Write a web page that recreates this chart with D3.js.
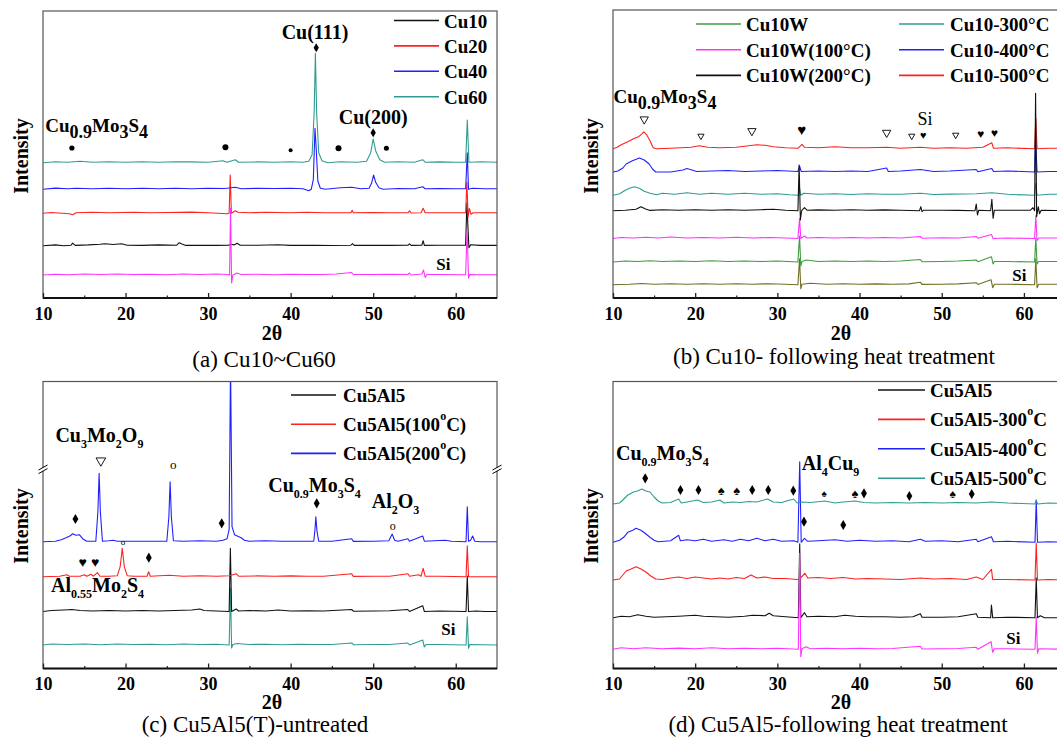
<!DOCTYPE html>
<html><head><meta charset="utf-8">
<script src="https://cdn.jsdelivr.net/npm/d3@7"></script>
<style>
body{margin:0;background:#fff}
text{font-family:"Liberation Serif","Times New Roman",serif}
</style>
</head><body>
<svg id="fig" width="1057" height="740"></svg>
<script>
// ---- shared x axis values (2θ, degrees)
const ticks2t = [10,20,30,40,50,60];
const minor2t = [15,25,35,45,55];

// ---- (a) Cu10~Cu60   values: [2θ, intensity above own baseline]
const aNames   = ["Cu10","Cu20","Cu40","Cu60",""];
const aColors  = ["#111111","#ff2020","#2020ff","#2f9c94","#ff33ff"];
const aOffsets = [52.3, 84.7, 108.7, 135.3, 23];
const aCu10 = [[10,0],[11.5,0.8],[12.5,0],[13.4,0.5],[13.6,2.5],[13.9,0.3],[15.5,0.8],[16.9,1.5],[17.5,2],[18.5,1.2],[19.5,2],[20.2,0.5],[22,0.3],[24,0.8],[26.2,0.5],[26.5,3],[26.9,1.5],[27.3,0.3],[29.5,0.5],[31,0.3],[32.5,0.5],[32.7,1.5],[33.2,0.8],[33.5,2.5],[33.9,0.5],[36,0.5],[38.5,1],[40,0.3],[43,0.5],[45,0.2],[47.3,0.5],[47.5,2],[47.7,0.3],[50,0.5],[52,0.3],[54.2,0.5],[54.4,1.8],[54.6,0.3],[55.9,0.5],[56.05,5],[56.2,0.3],[58,0.5],[61.2,0.5],[61.35,42.7],[61.5,15],[61.6,-2],[61.8,1],[63,0.3],[65,0.3]];
const aCu20 = [[10,0],[11,0.8],[13.2,-0.5],[13.6,-1.5],[14,0.5],[16,1],[18,0.5],[21,1],[23,0.5],[25,0.8],[28,1.2],[30,0.5],[32.3,-0.5],[32.55,0],[32.68,38.3],[32.82,0],[33.3,2.5],[33.6,1],[35,0.5],[37,1],[40,0.5],[42,1],[44,0.5],[47.3,0.5],[47.45,3],[47.6,0.5],[50,0.8],[52,0.5],[54.2,0.5],[54.4,2.5],[54.6,0.3],[55.8,0.5],[56.05,5],[56.3,0.5],[58,0.5],[61.2,0.5],[61.35,31.3],[61.5,-4],[61.65,5],[61.85,-1],[62.1,0.5],[65,0.5]];
const aCu40 = [[10,0],[11.5,1.2],[13,0.5],[14,1],[16,0.5],[18,1],[20,0.5],[22,1],[24,0.5],[26,1],[28,0.5],[30,1],[32,0.8],[33.3,2],[34,0.5],[36,1],[38,0.8],[40,1],[41.5,0.5],[42.2,-1.5],[42.5,0],[42.75,10],[42.95,61],[43.1,40],[43.3,8],[43.6,1],[44.2,0],[46,1.5],[47.4,2],[48.5,0.5],[49.5,1],[49.8,6],[50.05,14.3],[50.3,7],[50.7,1.5],[51.2,0],[53,0.8],[55,0.5],[56,2.5],[56.3,0.5],[58,0.8],[60,0.5],[61.2,0.5],[61.4,36.6],[61.55,0],[62,1],[63.5,0.5],[65,0.5]];
const aCu60 = [[10,0],[11.5,1],[13,0.5],[14.5,1.5],[16,0.5],[18,1],[20,0.5],[22,1],[24,0.5],[26,1],[28,0.8],[30,0.5],[31.8,2],[32.3,0.5],[33.3,3],[33.7,0.5],[36,0.8],[38,0.5],[40,1],[41.5,0.5],[42.2,1.5],[42.6,8],[42.85,50],[43.0,109.4],[43.15,50],[43.4,10],[43.8,2],[44.5,0],[46,1],[48,0.5],[49.2,1.5],[49.7,10],[50.0,23.7],[50.3,12],[50.8,3],[51.4,0.5],[53,1],[55,0.5],[56,3],[56.3,0.5],[58,0.8],[60,0.5],[61.2,0.5],[61.4,42.7],[61.6,0.5],[63,1],[65,0.5]];
const aSub  = [[10,0],[11.5,0.8],[13,0.3],[15,1],[17,0.5],[19,1],[21,0.5],[23,0.8],[25,0.3],[27,1],[29,0.5],[31,1],[32.4,0.5],[32.6,0],[32.72,67],[32.85,-8],[33,0],[33.5,2],[34,0.5],[36,0.8],[38,0.3],[40,0.8],[42,0.5],[44,0.5],[45.5,1],[47.4,2.5],[47.6,0.5],[50,0.5],[52,0.8],[54.2,0.5],[54.4,2],[54.6,0],[55.9,1],[56.1,5],[56.3,-2.5],[56.5,0.5],[58,0.5],[61.2,0.3],[61.38,45],[61.55,-3],[61.7,0.5],[63,0.3],[65,0.3]];
const aDiamonds = [[43.1,250.3],[50.0,165.3]];
const aDots = [[13.5,150,2.6],[32.1,150.7,3],[40.0,147.7,2],[45.8,149.7,3],[51.6,149.7,2.5]];

// ---- (b) Cu10 following heat treatment
const bNames   = ["", "Cu10W","Cu10W(100°C)","Cu10-300°C","Cu10-400°C","Cu10-500°C","Cu10W(200°C)"];
const bColors  = ["#6f6f25","#3f9c3f","#ff33ff","#2a9c98","#2020ff","#ff2020","#111111"];
const bOffsets = [13.3, 36, 59.5, 102.7, 126, 149.2, 87.3];
const bOlive = [[10,0],[12,0.5],[13.5,1.2],[15,0.5],[17,1],[19,0.5],[21,1],[23,0.5],[25,1],[27,0.5],[29,1],[31,0.5],[32.5,0],[32.7,26],[32.85,-4],[33,0.5],[34,1.5],[36,0.5],[38,1],[40,0.5],[42,0.8],[44,0.5],[46,0.8],[47.4,2.5],[47.6,0.3],[50,0.5],[52,0.8],[54.2,2],[54.4,0.3],[56,5],[56.2,-3],[56.4,0.5],[58,0.5],[61.3,0],[61.45,26],[61.6,-3],[61.8,0.5],[65,0.5]];
const bCu10W = [[10,0],[11.5,1],[13,0.5],[14.5,1.2],[16,0.5],[18,1],[20,0.5],[22,1.2],[24,0.5],[26,1],[28,0.5],[30,1],[32.5,0],[32.7,26],[32.85,-4],[33,0.5],[33.5,2],[35,0.5],[37,1],[39,0.5],[41,1],[43,0.5],[45,1],[47.4,2.5],[47.6,0.3],[50,0.5],[52,1],[54.2,2],[54.4,0.3],[56.05,5.3],[56.25,-2],[56.4,0.5],[58,0.5],[61.3,0],[61.45,24],[61.6,-2],[61.8,0.5],[65,0.5]];
const bCu10W100 = [[10,0],[11,1],[12.5,0.5],[14,1.2],[15.5,0.5],[17,1.5],[19,0.5],[21,1],[23,0.5],[25,1.2],[27,0.5],[29,1],[31,0.5],[32.5,0],[32.7,20],[32.85,0],[33.3,2.5],[33.6,0.5],[35,1],[37,0.5],[39,1],[41,0.5],[43,1],[45,0.5],[47.4,2],[47.6,0.3],[50,0.8],[52,0.5],[54.2,2],[54.4,0.3],[56.05,4],[56.25,0],[58,0.5],[61.3,0],[61.45,23],[61.6,-2],[61.8,0.5],[65,0.5]];
const bCu10W200 = [[10,0],[11.5,0.5],[12.8,1.5],[13.4,4],[13.9,2],[14.5,0.3],[16,1],[18,0.5],[20,1],[22,0.5],[24,1],[26,0.5],[28,1],[29.5,1.5],[31,0.5],[32.5,0],[32.65,45.7],[32.8,-9.3],[32.95,0],[33.3,3],[33.6,0.5],[35,0.8],[37,0.5],[39,1],[41,0.5],[43,0.8],[45,0.5],[47.3,0],[47.45,4],[47.6,-1],[47.8,0.5],[50,0.5],[52,0.3],[54.05,0],[54.2,6.7],[54.35,-4.3],[54.5,0.5],[55.95,0],[56.1,11.4],[56.25,-7.6],[56.4,0.5],[58,0.5],[60.8,0.5],[61.1,3],[61.3,0],[61.42,117.4],[61.55,-6],[61.75,4],[61.9,-3],[62.1,0.5],[65,0]];
const bCu10300 = [[10,0],[10.8,1.5],[11.5,5],[12.0,7],[12.6,8.6],[13.2,7],[13.8,4],[14.5,2],[15.3,0.5],[16,2],[17.5,1],[19,2.5],[20.5,1],[22,2],[24,1],[26,2],[28,1],[30,1.5],[31.5,0.5],[32.55,0],[32.7,7],[32.85,0],[33.2,2],[35,1],[37,1.5],[39,0.8],[41,1.5],[43,1],[45,1],[47.4,2],[49,0.8],[51,1.2],[54.2,1.5],[56.1,2.5],[58,1],[61.3,0],[61.45,12],[61.6,0],[63,1],[65,1]];
const bCu10400 = [[10,0],[10.6,1],[11.2,4],[11.6,8],[12.3,11],[13.2,14],[13.8,12],[14.4,8],[14.8,3],[15.2,0],[17,0],[18.5,2],[19,3.5],[19.6,2],[20.2,0.5],[22,1],[24,1.5],[26,0.5],[28,1],[30,1.5],[32.5,0.5],[32.7,6],[32.9,0.5],[35,1],[37,0.5],[39,1],[41,0.5],[43.3,4],[43.5,0.5],[45,1],[47.4,2.5],[49,0.5],[51,1],[54.2,2.5],[54.4,0.3],[56.1,3.5],[56.3,0.5],[58,1],[61.3,0],[61.42,32],[61.6,0],[63,0.5],[65,0.5]];
const bCu10500 = [[10,0],[10.5,1.5],[11,4],[11.8,7],[12.5,10],[13.1,12],[13.5,15],[13.75,17],[14.1,14],[14.5,8],[14.9,1],[15.3,0],[17,0.5],[19.5,1.5],[20.5,3],[21.5,1.5],[23,1],[25,1.5],[26.5,3],[27.5,4],[28.5,3.5],[29.5,2],[31,1],[32.5,0.5],[33,4.5],[33.3,1.5],[35,1],[37,2],[39,1],[41,1],[43.3,1.5],[45,0.5],[47.4,1.5],[49,0.5],[51,1],[53,0.5],[55,1.5],[56.1,6],[56.3,0.5],[58,1],[61.3,0],[61.45,30.5],[61.6,0],[63,0.5],[65,0.5]];
const bTriangles = [[13.8,178.7,30],[20.7,162,17],[26.9,167,30],[43.3,165.3,30],[46.35,162,17],[51.7,163,17]];
const bHearts = [[32.96,168,15],[47.76,163.2,11],[54.74,163.7,12],[56.4,164.7,12]];

// ---- (c) Cu5Al5(T) untreated
const cNames   = ["", "Cu5Al5","Cu5Al5(100","Cu5Al5(200"];
const cColors  = ["#2f9c94","#111111","#ff2020","#2020ff"];
const cOffsets = [23.5, 57, 91.8, 126.8];
const cSub = [[10,0],[11,1],[13,0.5],[15,1],[17,0.3],[19,1],[21,0.5],[23,0.8],[25,0.3],[27,1],[29,0.5],[31,0.8],[32.55,0],[32.72,56.7],[32.85,-3],[33,0.5],[33.5,1.5],[35,0.5],[37,0.8],[39,0.3],[41,0.8],[43,0.5],[45,0.5],[47.4,2],[47.6,0.3],[50,0.5],[52,0.5],[54.2,2],[54.4,0],[56,5],[56.2,-2],[56.4,0.5],[58,0.5],[61.25,0],[61.4,28.3],[61.55,-3.3],[61.7,0.5],[65,0]];
const cCu5Al5 = [[10,0],[11,1],[12.5,1.5],[13.5,2],[14.5,1],[16,0.5],[18,1],[20,0.5],[22,1],[24,0.5],[26,1],[28,1.5],[29,2.5],[29.5,1],[31,0.5],[32.55,0],[32.7,63.2],[32.85,0],[33.4,2.5],[33.7,0.5],[35,1],[37,0.5],[38.5,1.5],[40,0.5],[42,0.8],[44,0.5],[47.4,2],[47.6,0.3],[50,0.5],[52,0.8],[54.2,2],[54.4,0],[56,5.8],[56.2,0],[58,0.5],[61.25,0],[61.4,35.5],[61.55,0],[62.5,0.5],[63.5,0],[65,0]];
const cCu5Al5100 = [[10,0],[12,0.5],[12.9,2],[13.2,0.5],[14.5,0.5],[15,2],[15.3,0.5],[15.8,2.5],[16.1,0.5],[16.6,4],[16.9,0.5],[18,0.5],[19.0,1],[19.35,10],[19.6,28.4],[19.85,10],[20.2,1],[21,0.5],[22.6,0.5],[22.8,5],[23.0,0.5],[25.3,1.5],[27,0.5],[29,1],[31,0.5],[32.6,1],[33.4,3],[33.7,0.5],[36,0.8],[38,0.5],[40,0.8],[42,0.5],[44,0.5],[47.4,3],[47.6,0.3],[50,0.5],[52,0.5],[54.2,3],[54.4,0.5],[55.5,2],[55.8,0.5],[56.05,8.4],[56.3,0.5],[58,0.5],[61.25,0],[61.4,31],[61.55,0],[65,0]];
const cCu5Al5200 = [[10,0],[11.5,0.5],[12.2,2],[12.8,4],[13.3,6],[13.6,8],[14.0,6.5],[14.4,7],[14.8,3],[15.3,0.5],[16.4,0.5],[16.65,30],[16.8,68.4],[16.95,30],[17.2,0.5],[18,1],[18.5,1.5],[19,0.5],[21,0.5],[23,0.5],[25.0,0.5],[25.25,25],[25.4,60],[25.55,25],[25.8,1],[27,0.5],[29,1],[31,0.5],[31.8,1.5],[32.3,3],[32.55,12],[32.72,180],[32.9,15],[33.2,7],[33.6,5.5],[34.0,4],[34.4,1.5],[35,0.5],[37,1],[39,0.5],[41,0.5],[42.8,0.5],[42.95,12],[43.05,25],[43.2,10],[43.4,0.5],[45,0.5],[47.4,3],[47.6,0.3],[50,0.5],[51.9,1],[52.3,7.7],[52.6,1.5],[53,0.5],[54.2,3],[54.4,0.5],[56.0,5.7],[56.2,0.5],[58.7,1.5],[59.5,0.5],[61.25,0],[61.4,35],[61.55,0.5],[61.8,1.5],[62.05,5.7],[62.3,0.5],[63,0],[65,0]];
const cDiamonds = [[13.93,149.5],[31.65,145.2],[43.16,165.2],[22.82,110.8]];
const cHearts = [[14.79,106.2,14],[16.31,106.2,14]];
const cCircles = [[25.77,204.2,13],[52.36,143,12],[19.69,126.2,9]];
const cTriangles = [[17.01,207.8,40]];
const cBreak = 199.2;

// ---- (d) Cu5Al5 following heat treatment
const dNames   = ["", "Cu5Al5","Cu5Al5-300","Cu5Al5-400","Cu5Al5-500"];
const dColors  = ["#ff33ff","#111111","#ff2020","#2020ff","#2f9c94"];
const dOffsets = [19.2, 50.8, 88.5, 126.2, 164.5];
const dSub = [[10,0],[11,1.5],[12.5,0.5],[14,1.5],[16,0.5],[18,1.2],[20,0.5],[22,1.5],[24,0.5],[26,1],[28,0.5],[30,1],[32.55,0],[32.72,96],[32.85,-7.4],[33.0,0.5],[33.5,2.5],[34,0.5],[36,1],[38,0.5],[40,1],[42,0.5],[44,0.8],[47.4,3],[47.6,0.3],[50,0.5],[52,0.8],[54.2,2],[54.4,0],[56.0,7.6],[56.2,-3],[56.4,0.5],[58,0.5],[61.35,0],[61.5,32.6],[61.65,-4],[61.8,0.5],[65,0]];
const dCu5Al5 = [[10,0],[11,1.5],[12,1],[13,3],[14,1.5],[15,0.5],[16.5,1],[18,1.5],[20,2.5],[21,1.5],[22.5,1],[24,0.5],[26,1.5],[27,2.5],[28.5,2],[29,4.5],[29.5,2],[31,1],[32.55,0],[32.72,74],[32.85,0],[33.3,5],[33.6,1],[35,1.5],[37,1],[38.2,2.5],[39.5,1.5],[41,1],[43,1],[45,0.5],[46.5,1],[47.4,4],[47.6,0.5],[50,0.5],[52,1],[54.2,4],[54.4,0.5],[55.95,0],[56.05,12.7],[56.2,0],[58,0.5],[61.35,0],[61.5,40],[61.65,0],[62,2],[62.5,0],[65,0]];
const dCu5Al5300 = [[10,0],[10.8,1],[11.2,5],[11.6,9],[12.2,11],[12.8,13.3],[13.4,11],[14,8],[14.6,4],[15.2,1],[16,0.5],[17,2],[18,3],[19,1.5],[20,3],[21,2],[22,1],[23,2],[24,1],[25,2.5],[26,1.5],[26.8,5],[27.5,2],[28.5,3],[29.5,1.5],[31,1.5],[32.4,0.5],[32.7,1],[33.35,6.7],[33.7,2],[35,2.5],[36.5,1.5],[38,2.5],[39.5,1],[41,1.5],[43,1],[45,0.5],[47.4,2],[49,1],[51,1.5],[53,0.5],[54.2,3],[55,0.5],[56.05,10.7],[56.2,0.5],[58,0.5],[61.35,0],[61.5,36.7],[61.65,0],[63,0.5],[65,0]];
const dCu5Al5400 = [[10,0],[10.8,2],[11.3,5],[11.8,10],[12.4,12],[12.8,14],[13.4,12],[13.9,9],[14.5,5],[15,2],[15.5,0.5],[17,1.5],[18,7],[18.2,1.5],[19,2.5],[20,1.5],[21,3],[22,1],[23.5,2.5],[24.5,1],[25.5,3],[26.5,1.5],[27.5,4],[28.5,1.5],[29.5,3],[30.5,1],[32.0,1.5],[32.5,0],[32.72,80.6],[32.9,0],[33.3,4],[33.7,1],[35,1.5],[37,2.5],[38.5,1],[40,2],[42,1],[44,1.5],[46,0.5],[47.4,3],[48,1],[50,1.5],[52,0.5],[54.2,3],[54.4,0.5],[56.05,5.6],[56.3,0.5],[58,1],[61.35,0],[61.5,42.3],[61.65,0],[63,0.5],[65,0]];
const dCu5Al5500 = [[10,0],[10.8,1],[11.2,4],[11.8,9],[12.5,12],[13.0,13],[13.5,15],[14.0,13],[14.5,12],[15.0,7],[15.5,3],[16,1],[17,1.5],[18,5],[18.3,1],[19,2],[20.3,4],[21,1.5],[22,2],[23,4],[23.5,1],[24.5,2],[25.5,1.5],[26.5,2.5],[27.5,2],[28.8,5],[29.5,2],[30.5,1.5],[32,5],[32.4,1],[33,2],[34,1.5],[35.8,3],[37,1],[38,2],[39.5,3],[40.5,1.5],[42,1],[44,1.5],[46,1],[48,1.5],[50,1],[52,1.5],[54.2,1],[56,2],[58,1],[61.35,0],[61.5,4],[61.65,0],[63,1],[65,0.5]];
const dDiamonds = [[13.92,190.2],[18.21,178.5],[20.4,178.5],[26.94,178.5],[28.89,178.5],[31.94,177.8],[40.54,175.2],[46.06,172.5],[53.65,174.5],[33.24,146.8],[38.02,143.5]];
const dSpades = [[23.18,178.5,13],[25.04,178.5,13],[35.68,175.2,10],[39.45,175.2,13],[51.34,174.2,12]];

// ---------------------------------------------------------------
const svg = d3.select("#fig");
const defs = svg.append("defs");
const serif = "Liberation Serif, Times New Roman, serif";
const glyph = "DejaVu Sans, sans-serif";

function makePanel(id, x0, x1, top, bottom){
  const x = d3.scaleLinear().domain([10,65]).range([x0,x1]);
  const y = d3.scaleLinear().domain([0,287]).range([bottom, bottom-287]);
  defs.append("clipPath").attr("id","clip"+id).append("rect")
    .attr("x",x0).attr("y",top).attr("width",x1-x0).attr("height",bottom-top);
  const g = svg.append("g");
  const plot = g.append("g").attr("clip-path",`url(#clip${id})`);
  // frame
  g.append("rect").attr("x",x0).attr("y",top).attr("width",x1-x0).attr("height",bottom-top)
    .attr("fill","none").attr("stroke","#555").attr("stroke-width",1.2);
  g.append("line").attr("x1",x0).attr("x2",x1).attr("y1",bottom).attr("y2",bottom)
    .attr("stroke","#111").attr("stroke-width",1.8);
  const ax = g.append("g").attr("transform",`translate(0,${bottom})`)
    .call(d3.axisBottom(x).tickValues(ticks2t).tickSizeInner(-5).tickSizeOuter(0).tickPadding(9).tickFormat(d3.format("d")));
  ax.select(".domain").remove();
  ax.selectAll("line").attr("stroke","#222").attr("stroke-width",1.3);
  ax.selectAll("text").attr("font-family",serif).attr("font-size",18).attr("font-weight","bold").attr("fill","#000");
  const mx = g.append("g").attr("transform",`translate(0,${bottom})`)
    .call(d3.axisBottom(x).tickValues(minor2t).tickSizeInner(-2.5).tickSizeOuter(0).tickFormat(""));
  mx.select(".domain").remove();
  mx.selectAll("line").attr("stroke","#222").attr("stroke-width",1.2);
  return {x, y, g, plot, x0, x1, top, bottom};
}

function traces(P, series, colors, offsets){
  const line = d3.line().x(d=>P.x(d[0]));
  series.forEach((s,k)=>{
    P.plot.append("path").datum(s)
      .attr("d", line.y(d=>P.y(d[1]+offsets[k])))
      .attr("fill","none").attr("stroke",colors[k]).attr("stroke-width",1.1)
      .attr("stroke-linejoin","round");
  });
}

// parts: [text, kind] kind 0 normal, 1 subscript, 2 superscript
function rich(g, px, py, parts, o){
  const t = g.append("text").attr("x",px).attr("y",py)
    .attr("font-size",o.size).attr("font-weight",o.weight||"bold")
    .attr("font-family",o.family||serif).attr("text-anchor",o.anchor||"start");
  let shift = 0;
  parts.forEach(([s,kind])=>{
    const target = kind===1 ? o.subDy : kind===2 ? -o.supDy : 0;
    t.append("tspan").text(s).attr("dy", target-shift)
      .attr("font-size", kind===1 ? o.subSize : kind===2 ? o.supSize : o.size);
    shift = target;
  });
  return t;
}

function axisTitles(P, thetaX, thetaY, intX, intY, caption, capX, capY){
  P.g.append("text").attr("x",thetaX).attr("y",thetaY).attr("text-anchor","middle")
    .attr("font-size",20).attr("font-weight","bold").text("2θ");
  P.g.append("text").attr("transform",`translate(${intX},${intY}) rotate(-90)`)
    .attr("text-anchor","middle").attr("dominant-baseline","central")
    .attr("font-size",20).attr("font-weight","bold").text("Intensity");
  P.g.append("text").attr("x",capX).attr("y",capY).attr("text-anchor","middle")
    .attr("font-size",23).text(caption);
}

function legendRow(g, lx1, lx2, tx, ty, color, parts){
  g.append("line").attr("x1",lx1).attr("x2",lx2).attr("y1",ty).attr("y2",ty)
    .attr("stroke",color).attr("stroke-width",1.6);
  rich(g, tx, ty, parts, {size:19, subSize:12, supSize:12, subDy:7, supDy:8})
    .attr("dominant-baseline","central");
}

function diamonds(P, pts, size){
  P.g.selectAll(null).data(pts).join("path")
    .attr("transform",d=>`translate(${P.x(d[0])},${P.y(d[1])})`)
    .attr("d", d3.symbol(d3.symbolDiamond, size)).attr("fill","#000");
}
function glyphs(P, pts, ch){
  P.g.selectAll(null).data(pts).join("text")
    .attr("x",d=>P.x(d[0])).attr("y",d=>P.y(d[1]))
    .attr("text-anchor","middle").attr("dominant-baseline","central")
    .attr("font-family",glyph).attr("font-size",d=>d[2]).text(ch);
}
function triangles(P, pts){
  P.g.selectAll(null).data(pts).join("path")
    .attr("transform",d=>`translate(${P.x(d[0])},${P.y(d[1])}) rotate(180)`)
    .attr("d", d=>d3.symbol(d3.symbolTriangle, d[2])())
    .attr("fill","#fff").attr("stroke","#000").attr("stroke-width",0.9);
}
function siLabel(P, t, i){
  P.g.append("text").attr("x",P.x(t)).attr("y",P.y(i)).attr("text-anchor","middle")
    .attr("dominant-baseline","central").attr("font-family","Liberation Sans, Arial, sans-serif")
    .attr("font-weight","bold").attr("font-size",17).text("Si");
}
function at(P, t, i){ return [P.x(t), P.y(i)]; }

// ================= (a)
const A = makePanel("a", 43, 497, 11, 298);
traces(A, [aCu10,aCu20,aCu40,aCu60,aSub], aColors, aOffsets);
axisTitles(A, 272, 340, 21, 156, "(a) Cu10~Cu60", 264, 367);
aNames.slice(0,4).forEach((n,k)=>legendRow(A.g, 394, 439, 444, 20.5+25.4*k, aColors[k], [[n,0]]));
diamonds(A, aDiamonds, 24);
A.g.selectAll(null).data(aDots).join("circle")
  .attr("cx",d=>A.x(d[0])).attr("cy",d=>A.y(d[1])).attr("r",d=>d[2]).attr("fill","#000");
rich(A.g, ...at(A,42.95,259.5), [["Cu(111)",0]], {size:20, anchor:"middle"});
rich(A.g, ...at(A,50.0,174.3), [["Cu(200)",0]], {size:20, anchor:"middle"});
rich(A.g, ...at(A,10.27,166.3), [["Cu",0],["0.9",1],["Mo",0],["3",1],["S",0],["4",1]], {size:19, subSize:18, subDy:6});
siLabel(A, 58.5, 34);

// ================= (b)
const B = makePanel("b", 613, 1065, 10, 298);
traces(B, [bOlive,bCu10W,bCu10W100,bCu10300,bCu10400,bCu10500,bCu10W200], bColors, bOffsets);
axisTitles(B, 841, 340, 591, 156, "(b) Cu10- following heat treatment", 834, 364);
[[1,0],[2,1],[6,2]].forEach(([k,r])=>legendRow(B.g, 696, 741, 746, 24+25.7*r, bColors[k], [[bNames[k],0]]));
[[3,0],[4,1],[5,2]].forEach(([k,r])=>legendRow(B.g, 899, 944, 950, 24+25.7*r, bColors[k], [[bNames[k],0]]));
rich(B.g, ...at(B,10.07,195), [["Cu",0],["0.9",1],["Mo",0],["3",1],["S",0],["4",1]], {size:19, subSize:18, subDy:6});
triangles(B, bTriangles);
glyphs(B, bHearts, "♥");
B.g.append("text").attr("x",B.x(47.97)).attr("y",B.y(179)).attr("text-anchor","middle")
  .attr("dominant-baseline","central").attr("font-size",18).text("Si");
siLabel(B, 59.44, 23);

// ================= (c)
const C = makePanel("c", 43, 497, 381.5, 668.5);
traces(C, [cSub,cCu5Al5,cCu5Al5100,cCu5Al5200], cColors, cOffsets);
axisTitles(C, 272, 709, 21, 526, "(c) Cu5Al5(T)-untreated", 255, 732);
[1,2,3].forEach((k,r)=>{
  const parts = k===1 ? [[cNames[k],0]] : [[cNames[k],0],["o",2],["C)",0]];
  legendRow(C.g, 291, 336, 343, 395+29.2*r, cColors[k], parts);
});
const subOpt = {size:20, subSize:12, subDy:6};
rich(C.g, ...at(C,11.5,226.8), [["Cu",0],["3",1],["Mo",0],["2",1],["O",0],["9",1]], subOpt);
rich(C.g, ...at(C,37.29,176.8), [["Cu",0],["0.9",1],["Mo",0],["3",1],["S",0],["4",1]], subOpt);
rich(C.g, ...at(C,49.82,160.2), [["Al",0],["2",1],["O",0],["3",1]], subOpt);
rich(C.g, ...at(C,10.97,76.8), [["Al",0],["0.55",1],["Mo",0],["2",1],["S",0],["4",1]], subOpt);
diamonds(C, cDiamonds, 30);
glyphs(C, cHearts, "♥");
triangles(C, cTriangles);
C.g.selectAll(null).data(cCircles).join("text")
  .attr("x",d=>C.x(d[0])).attr("y",d=>C.y(d[1])).attr("text-anchor","middle")
  .attr("dominant-baseline","central").attr("font-size",d=>d[2]).text("o");
siLabel(C, 59.1, 39.2);
// axis break marks
[C.x0, C.x1].forEach(bx=>{
  const by = C.y(cBreak);
  C.g.append("rect").attr("x",bx-3).attr("y",by-1.5).attr("width",6).attr("height",3).attr("fill","#fff");
  [-1.8,1.8].forEach(o=>C.g.append("line")
    .attr("x1",bx-4.5).attr("y1",by+o+2.5).attr("x2",bx+4.5).attr("y2",by+o-2.5)
    .attr("stroke","#000").attr("stroke-width",1));
});

// ================= (d)
const D = makePanel("d", 613, 1065, 381.5, 668.5);
traces(D, [dCu5Al5,dCu5Al5300,dCu5Al5400,dCu5Al5500,dSub], [dColors[1],dColors[2],dColors[3],dColors[4],dColors[0]], [dOffsets[1],dOffsets[2],dOffsets[3],dOffsets[4],dOffsets[0]]);
axisTitles(D, 841, 709, 591, 526, "(d) Cu5Al5-following heat treatment", 838, 732);
[1,2,3,4].forEach((k,r)=>{
  const parts = k===1 ? [[dNames[k],0]] : [[dNames[k],0],["o",2],["C",0]];
  legendRow(D.g, 878, 925, 930, 390+29.4*r, dColors[k], parts);
});
rich(D.g, ...at(D,10.37,208.5), [["Cu",0],["0.9",1],["Mo",0],["3",1],["S",0],["4",1]], subOpt);
rich(D.g, ...at(D,32.96,198.5), [["Al",0],["4",1],["Cu",0],["9",1]], subOpt);
diamonds(D, dDiamonds, 30);
glyphs(D, dSpades, "♠");
siLabel(D, 58.71, 30.2);
</script>
</body></html>
